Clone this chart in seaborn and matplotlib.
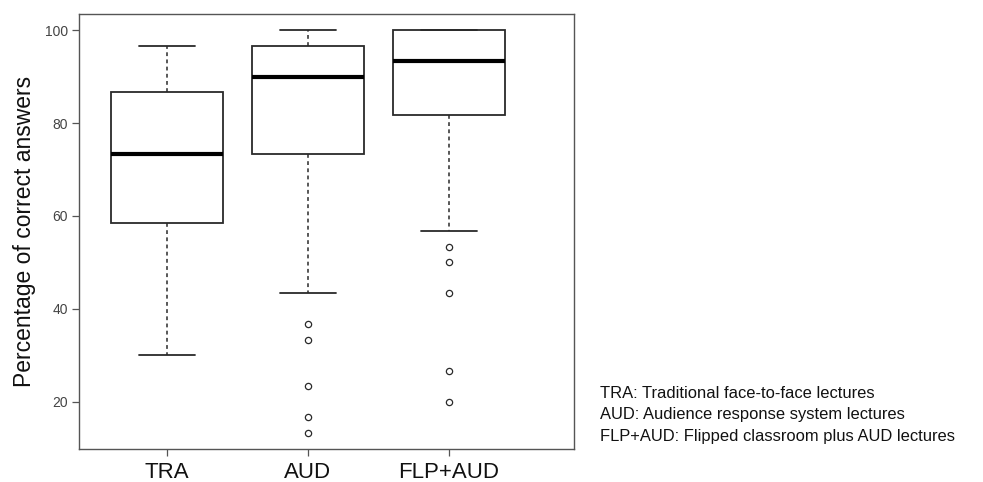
import numpy as np
import pandas as pd
import matplotlib
matplotlib.use("Agg")
import matplotlib.pyplot as plt
import seaborn as sns

# Groups and scores (summary points of each box)
groups = ["TRA", "AUD", "FLP+AUD"]
tra_scores = [30.0, 58.5, 73.3, 86.6, 96.7]
aud_scores = [13.3, 16.7, 23.3, 33.3, 36.7, 43.3,
              73.3, 73.3, 73.3, 73.3, 73.3, 73.3,
              90.0, 90.0, 90.0, 90.0, 90.0, 90.0,
              96.7, 96.7, 96.7, 96.7, 96.7, 96.7,
              100.0]
flp_scores = [20.0, 26.7, 43.3, 50.0, 53.3, 56.7,
              81.7, 81.7, 81.7, 81.7, 81.7, 81.7,
              93.3, 93.3, 93.3, 93.3, 93.3, 93.3,
              100.0, 100.0, 100.0, 100.0, 100.0, 100.0,
              100.0]
y_ticks = [20, 40, 60, 80, 100]
legend_lines = ["TRA: Traditional face-to-face lectures",
                "AUD: Audience response system lectures",
                "FLP+AUD: Flipped classroom plus AUD lectures"]

df = pd.DataFrame({
    "group": ["TRA"] * len(tra_scores) + ["AUD"] * len(aud_scores) + ["FLP+AUD"] * len(flp_scores),
    "score": tra_scores + aud_scores + flp_scores,
})

sns.set_style("white")
plt.rcParams["font.family"] = ["Liberation Sans", "DejaVu Sans"]

fig = plt.figure(figsize=(9.83, 4.82), dpi=100)
ax = fig.add_axes([79 / 983, 1 - 449 / 482, (574 - 79) / 983, (449 - 14) / 482])

line_c = "#2a2a2a"
sns.boxplot(data=df, x="group", y="score", order=groups, ax=ax,
            color="white", linecolor=line_c, linewidth=1.3, width=0.8, whis=1.5,
            medianprops=dict(linewidth=3, color="black"),
            whiskerprops=dict(linestyle=(0, (2.5, 2.2)), linewidth=1.1),
            flierprops=dict(marker="o", markersize=4.5, markerfacecolor="white",
                            markeredgecolor=line_c, markeredgewidth=0.9))

ax.set_xlim(-0.624, 2.887)
ax.set_ylim(9.8, 103.5)
ax.set_yticks(y_ticks)
ax.set_yticklabels([str(t) for t in y_ticks])
ax.set_xlabel("")
ax.set_ylabel("Percentage of correct answers", fontsize=16.5, color="#111", labelpad=6)
ax.tick_params(axis="y", left=True, length=5, width=0.9, color="#555", labelsize=10,
               labelcolor="#444", pad=3)
ax.tick_params(axis="x", bottom=True, length=5, width=0.9, color="#555", labelsize=16,
               labelcolor="#111", pad=4)
for s in ax.spines.values():
    s.set_color("#555")
    s.set_linewidth(1.0)
    s.set_visible(True)

for i, line in enumerate(legend_lines):
    fig.text(600 / 983, 1 - (393 + i * 21.5) / 482, line, ha="left", va="center",
             fontsize=11.9, color="#111")

fig.savefig("out.png", dpi=100)
